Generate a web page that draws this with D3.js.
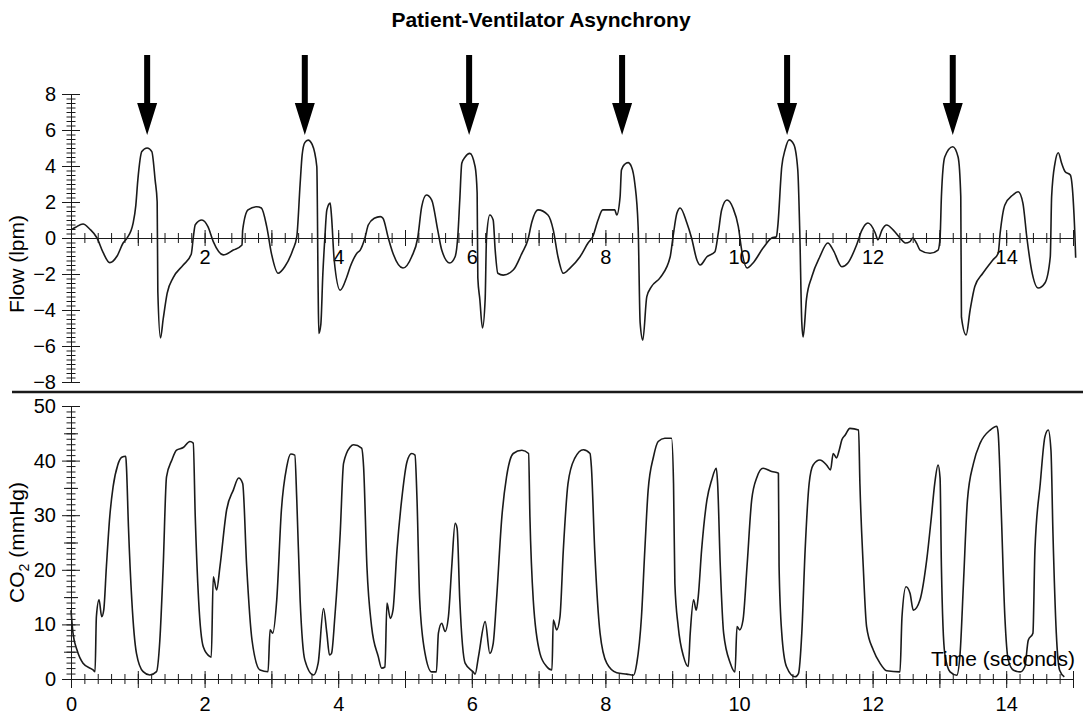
<!DOCTYPE html>
<html>
<head>
<meta charset="utf-8">
<script src="https://cdn.jsdelivr.net/npm/d3@7"></script>
<style>
  html, body { margin: 0; padding: 0; background: #fff; }
  svg { display: block; font-family: "Liberation Sans", Arial, Helvetica, sans-serif; }
</style>
</head>
<body>
<svg id="chart" width="1083" height="715"></svg>
<script>
// Tick labels
const timeLabels = [0, 2, 4, 6, 8, 10, 12, 14];
const flowLabels = [-8, -6, -4, -2, 0, 2, 4, 6, 8];
const co2Labels = [0, 10, 20, 30, 40, 50];

// Times (s) of the ventilator-triggered breaths marked with arrows
const arrowTimes = [1.14, 3.50, 5.96, 8.25, 10.72, 13.20];

// Flow waveform: [time (s), flow (lpm)]
const flowSeries = [
  [0.00,0.45],[0.07,0.6],[0.18,0.78],[0.28,0.5],[0.39,0],[0.48,-0.8],[0.58,-1.37],[0.69,-1.0],[0.78,-0.28],[0.84,0],
  [0.93,0.83],[0.97,1.8],[1.00,3.2],[1.06,4.8],[1.14,5.0],[1.21,4.8],[1.26,3.2],[1.29,2.0],[1.30,-3.0],[1.34,-5.55],
  [1.38,-4.5],[1.44,-3.06],[1.53,-2.2],[1.68,-1.5],[1.80,-0.9],[1.83,0],[1.86,0.74],[1.96,1.0],[2.05,0.63],[2.13,-0.2],
  [2.28,-0.94],[2.43,-0.67],[2.56,-0.39],[2.57,0.44],[2.65,1.56],[2.78,1.74],[2.85,1.67],[2.93,0.63],[3.00,-0.85],[3.10,-1.96],
  [3.20,-1.6],[3.32,-0.67],[3.38,0.07],[3.43,3.0],[3.46,4.6],[3.50,5.3],[3.55,5.44],[3.61,5.2],[3.68,3.96],[3.70,-3.0],
  [3.71,-5.3],[3.74,-4.8],[3.77,-2.0],[3.80,0],[3.83,1.56],[3.88,1.94],[3.90,1.2],[3.94,-1.22],[4.03,-2.9],[4.13,-2.15],
  [4.18,-1.6],[4.28,-0.85],[4.33,-0.67],[4.40,0],[4.45,0.72],[4.54,1.1],[4.63,1.19],[4.67,1.1],[4.75,0],[4.82,-0.85],
  [4.97,-1.67],[5.10,-1.04],[5.19,0],[5.25,1.74],[5.32,2.39],[5.40,2.11],[5.49,0.44],[5.55,-0.67],[5.67,-1.39],[5.75,-1.04],
  [5.79,0.07],[5.82,2.11],[5.85,4.15],[5.90,4.5],[5.97,4.7],[6.05,3.96],[6.08,2.5],[6.09,-2.2],[6.12,-3.4],[6.16,-5.0],
  [6.20,-3.4],[6.22,0],[6.27,1.28],[6.32,1.0],[6.35,-0.67],[6.39,-1.96],[6.47,-2.06],[6.62,-1.78],[6.75,-0.85],[6.84,-0.1],
  [6.90,0.9],[6.99,1.56],[7.14,1.28],[7.22,0.44],[7.29,-1.04],[7.37,-1.96],[7.47,-1.67],[7.62,-1.04],[7.74,-0.28],[7.81,0.07],
  [7.89,1.0],[7.96,1.56],[8.14,1.56],[8.17,1.28],[8.22,2.3],[8.24,3.78],[8.29,4.1],[8.34,4.19],[8.39,3.96],[8.44,3.04],
  [8.49,0.63],[8.52,-4.7],[8.56,-5.67],[8.62,-3.26],[8.69,-2.7],[8.82,-2.2],[8.97,-1.04],[9.01,0],[9.07,1.37],[9.12,1.67],
  [9.22,0.83],[9.29,0],[9.37,-1.22],[9.42,-1.5],[9.52,-1.04],[9.64,-0.76],[9.69,0.28],[9.74,1.56],[9.82,2.11],[9.91,1.67],
  [9.99,0.63],[10.04,-0.67],[10.12,-1.67],[10.21,-1.39],[10.36,-0.56],[10.49,0],[10.56,0.07],[10.58,0.63],[10.64,3.96],[10.69,4.9],
  [10.75,5.45],[10.82,5.2],[10.88,3.78],[10.91,0.3],[10.94,-4.7],[10.96,-5.5],[11.01,-3.4],[11.09,-2.15],[11.21,-1.04],[11.33,-0.28],
  [11.41,-0.67],[11.54,-1.6],[11.63,-1.39],[11.76,-0.39],[11.84,0.44],[11.93,0.83],[12.04,0.28],[12.08,-0.1],[12.14,0.44],[12.21,0.72],
  [12.31,0.44],[12.41,0],[12.49,-0.28],[12.56,-0.2],[12.60,0],[12.66,-0.3],[12.71,-0.67],[12.86,-0.85],[12.98,-0.67],[13.01,0],
  [13.03,2.3],[13.08,4.5],[13.20,5.07],[13.28,4.5],[13.32,2.3],[13.33,-4.4],[13.40,-5.39],[13.46,-4.0],[13.53,-2.7],[13.65,-1.96],
  [13.80,-1.22],[13.88,-0.85],[13.91,0.28],[13.98,1.83],[14.10,2.39],[14.18,2.57],[14.25,1.94],[14.31,0],[14.38,-1.78],[14.48,-2.78],
  [14.58,-2.5],[14.66,-1.04],[14.68,2.3],[14.73,4.15],[14.78,4.74],[14.83,4.15],[14.88,3.7],[14.96,3.5],[15.00,2.3],[15.03,0],
  [15.04,-1.1]
];

// Capnogram: [time (s), CO2 (mmHg)]
const co2Series = [
  [0.00,12.6],[0.03,8.4],[0.09,5.3],[0.18,2.9],[0.33,1.65],[0.36,1.34],[0.38,11.4],[0.42,14.5],[0.46,11.4],[0.49,12.6],
  [0.53,20.6],[0.58,29.7],[0.63,35.2],[0.70,39.2],[0.76,40.6],[0.82,40.8],[0.83,38.9],[0.86,27.9],[0.91,14.5],[0.98,4.7],
  [1.08,1.34],[1.18,0.73],[1.28,1.34],[1.33,7.1],[1.38,20.6],[1.43,37],[1.51,40.1],[1.58,41.9],[1.68,42.4],[1.78,43.5],
  [1.83,43.2],[1.86,29.7],[1.91,14.5],[1.98,5.9],[2.08,4.1],[2.10,4.0],[2.13,18.7],[2.18,16.3],[2.23,20.6],[2.33,31],
  [2.43,34.6],[2.51,36.8],[2.57,35.8],[2.63,20.6],[2.71,7.1],[2.83,1.65],[2.95,1.34],[2.98,9],[3.02,8.4],[3.08,14.5],
  [3.15,31],[3.23,38.9],[3.29,41.2],[3.35,41],[3.38,32.8],[3.43,14.5],[3.50,3.5],[3.63,0.73],[3.70,2.9],[3.78,12.9],
  [3.83,8.4],[3.87,4.4],[3.90,4.7],[3.95,11.4],[4.03,26.7],[4.08,39.5],[4.18,42.5],[4.23,42.9],[4.35,42.3],[4.38,38.9],
  [4.43,20.6],[4.50,9.6],[4.60,4.1],[4.65,2.0],[4.70,2.2],[4.73,13.9],[4.78,11.1],[4.82,12.6],[4.88,23.6],[4.95,32.8],
  [5.03,39.8],[5.10,41.3],[5.15,41.0],[5.18,32.8],[5.22,14.5],[5.30,4.7],[5.40,1.3],[5.47,1.3],[5.50,8.4],[5.55,10.2],
  [5.60,8.7],[5.65,11.4],[5.70,20.6],[5.75,28.5],[5.78,27.6],[5.82,14.5],[5.90,2.9],[6.02,1.3],[6.05,0.9],[6.10,4.1],
  [6.20,10.5],[6.27,4.7],[6.32,6.5],[6.37,14.5],[6.45,29.7],[6.52,37],[6.62,41.3],[6.75,41.9],[6.85,41.3],[6.87,29.7],
  [6.92,14.5],[7.02,4.7],[7.12,2.3],[7.20,1.65],[7.22,10.8],[7.27,9],[7.32,11.4],[7.37,23.6],[7.44,35.8],[7.54,40.4],
  [7.67,42],[7.77,41.3],[7.79,38.9],[7.84,23.6],[7.92,8.4],[8.02,2.9],[8.17,1.15],[8.32,0.9],[8.42,0.7],[8.47,2.9],
  [8.54,11.4],[8.59,23.6],[8.64,34.6],[8.72,40.7],[8.79,43.5],[8.89,44.1],[8.99,44.1],[9.02,35.8],[9.04,17.5],[9.09,9.6],
  [9.17,4.1],[9.24,2.3],[9.27,8.4],[9.32,14.5],[9.36,12.6],[9.39,15.1],[9.44,23.6],[9.52,32.8],[9.59,36.4],[9.66,38.6],
  [9.68,35.8],[9.72,20.6],[9.77,8.4],[9.87,2.9],[9.94,1.3],[9.97,9.6],[10.01,9.0],[10.06,10.8],[10.12,20.6],[10.19,32.8],
  [10.27,37],[10.36,38.6],[10.49,38.0],[10.59,37.7],[10.60,20.6],[10.64,8.4],[10.71,2.3],[10.84,0.4],[10.89,1.0],[10.94,8.4],
  [10.99,23.6],[11.05,35.8],[11.11,39.2],[11.21,40.1],[11.31,39.2],[11.37,38.3],[11.41,41.3],[11.46,40.5],[11.50,41.9],[11.54,43.8],
  [11.59,44.7],[11.66,45.9],[11.79,45.6],[11.81,35.8],[11.86,20.6],[11.91,9.6],[12.01,5.3],[12.11,2.9],[12.21,1.5],[12.41,1.3],
  [12.44,11.4],[12.50,16.9],[12.56,15.7],[12.61,12.6],[12.71,14.5],[12.81,21.8],[12.88,29.7],[12.93,35.8],[12.98,39.2],[13.01,36.8],
  [13.03,20.6],[13.08,4.7],[13.16,1.3],[13.26,0.7],[13.31,4.7],[13.36,17.5],[13.42,32.8],[13.51,39.5],[13.61,43.2],[13.76,45.6],
  [13.86,46.3],[13.88,45.0],[13.92,32.8],[13.98,11.4],[14.03,3.5],[14.11,1.6],[14.21,1.3],[14.28,2.3],[14.33,7.1],[14.40,8.4],
  [14.43,23.6],[14.51,35.8],[14.58,44.4],[14.63,45.6],[14.67,41.9],[14.70,26.7],[14.75,8.4],[14.80,1.6],[14.87,0.4]
];

const ink = "#1a1a1a";
const svg = d3.select("#chart");

const x = d3.scaleLinear().domain([0, 15]).range([71, 1073]);
const yFlow = d3.scaleLinear().domain([-8, 8]).range([382, 94]);
const yCO2 = d3.scaleLinear().domain([0, 50]).range([679, 406]);

// Make every tick line straddle its axis line
function straddle(g, size, vertical) {
  g.selectAll(".tick line").attr(vertical ? "x1" : "y1", size);
}
function tidy(g, keepDomain) {
  g.attr("font-size", null).attr("font-family", null).style("color", ink);
  if (!keepDomain) g.select(".domain").remove();
  g.selectAll("text").style("font-size", "20px").attr("fill", "#000");
}

// ---- Flow panel: vertical axis ----
const flowAxisG = svg.append("g").attr("transform", `translate(${x(0)},0)`);
flowAxisG.append("g")
  .call(d3.axisLeft(yFlow).tickValues(d3.range(-8, 8.001, 0.25)).tickSize(4.5).tickSizeOuter(0).tickFormat(""))
  .call(g => { tidy(g, false); straddle(g, 4.5, true); });
flowAxisG.append("g")
  .call(d3.axisLeft(yFlow).tickValues(flowLabels).tickSize(9).tickSizeOuter(0).tickPadding(6))
  .call(g => { tidy(g, true); straddle(g, 9, true); });

// ---- Flow panel: time axis through zero ----
const flowTimeG = svg.append("g").attr("transform", `translate(0,${yFlow(0)})`);
flowTimeG.append("g")
  .call(d3.axisBottom(x).tickValues(d3.range(0, 15.001, 0.2)).tickSize(5).tickSizeOuter(0).tickFormat(""))
  .call(g => { tidy(g, true); straddle(g, -5, false); });
flowTimeG.append("g")
  .call(d3.axisBottom(x).tickValues(d3.range(0, 16, 1)).tickSize(8).tickSizeOuter(0).tickPadding(4)
    .tickFormat(d => (timeLabels.includes(d) && d > 0) ? d : ""))
  .call(g => { tidy(g, false); straddle(g, -8, false); });

// ---- CO2 panel: vertical axis ----
const co2AxisG = svg.append("g").attr("transform", `translate(${x(0)},0)`);
co2AxisG.append("g")
  .call(d3.axisLeft(yCO2).tickValues(d3.range(0, 50.001, 1)).tickSize(4.5).tickSizeOuter(0).tickFormat(""))
  .call(g => { tidy(g, false); straddle(g, 4.5, true); });
co2AxisG.append("g")
  .call(d3.axisLeft(yCO2).tickValues(d3.range(5, 50, 10)).tickSize(7).tickSizeOuter(0).tickFormat(""))
  .call(g => { tidy(g, false); straddle(g, 7, true); });
co2AxisG.append("g")
  .call(d3.axisLeft(yCO2).tickValues(co2Labels).tickSize(9).tickSizeOuter(0).tickPadding(6))
  .call(g => { tidy(g, true); straddle(g, 9, true); });

// ---- CO2 panel: time axis ----
const co2TimeG = svg.append("g").attr("transform", `translate(0,${yCO2(0)})`);
co2TimeG.append("g")
  .call(d3.axisBottom(x).tickValues(d3.range(0, 15.001, 0.2)).tickSize(5).tickSizeOuter(0).tickFormat(""))
  .call(g => { tidy(g, true); straddle(g, -5, false); });
co2TimeG.append("g")
  .call(d3.axisBottom(x).tickValues(d3.range(0, 16, 1)).tickSize(9).tickSizeOuter(0).tickPadding(9)
    .tickFormat(d => timeLabels.includes(d) ? d : ""))
  .call(g => { tidy(g, false); straddle(g, -8, false); });

// ---- Waveforms ----
svg.append("path")
  .datum(flowSeries)
  .attr("fill", "none")
  .attr("stroke", ink)
  .attr("stroke-width", 1.6)
  .attr("stroke-linejoin", "round")
  .attr("d", d3.line().x(d => x(d[0])).y(d => yFlow(d[1])).curve(d3.curveMonotoneX));

svg.append("path")
  .datum(co2Series)
  .attr("fill", "none")
  .attr("stroke", ink)
  .attr("stroke-width", 1.6)
  .attr("stroke-linejoin", "round")
  .attr("d", d3.line().x(d => x(d[0])).y(d => yCO2(d[1])).curve(d3.curveMonotoneX));

// ---- Divider between the panels ----
svg.append("line")
  .attr("x1", 12).attr("x2", 1083)
  .attr("y1", 392).attr("y2", 392)
  .attr("stroke", ink).attr("stroke-width", 2.5);

// ---- Arrows over the triggered breaths ----
const arrowTop = 55, headBase = 103, arrowTip = 135;
svg.append("g").selectAll("path")
  .data(arrowTimes)
  .join("path")
  .attr("fill", "#000")
  .attr("d", t => {
    const cx = x(t);
    return `M${cx - 3},${arrowTop}H${cx + 3}V${headBase}H${cx + 10}L${cx},${arrowTip}L${cx - 10},${headBase}H${cx - 3}Z`;
  });

// ---- Text ----
svg.append("text")
  .attr("x", 541).attr("y", 27)
  .attr("text-anchor", "middle")
  .style("font-size", "21px").style("font-weight", "bold")
  .attr("fill", "#000")
  .text("Patient-Ventilator Asynchrony");

svg.append("text")
  .attr("transform", `translate(24,${(yFlow(8) + yFlow(-8)) / 2 + 26}) rotate(-90)`)
  .attr("text-anchor", "middle")
  .style("font-size", "21px")
  .attr("fill", "#000")
  .text("Flow (lpm)");

const co2Title = svg.append("text")
  .attr("transform", `translate(24,${(yCO2(0) + yCO2(50)) / 2}) rotate(-90)`)
  .attr("text-anchor", "middle")
  .style("font-size", "21px")
  .attr("fill", "#000");
co2Title.append("tspan").text("CO");
co2Title.append("tspan").attr("dy", 5).style("font-size", "14px").text("2");
co2Title.append("tspan").attr("dy", -5).text(" (mmHg)");

svg.append("text")
  .attr("x", 1075).attr("y", 666)
  .attr("text-anchor", "end")
  .style("font-size", "21px")
  .attr("fill", "#000")
  .text("Time (seconds)");
</script>
</body>
</html>
